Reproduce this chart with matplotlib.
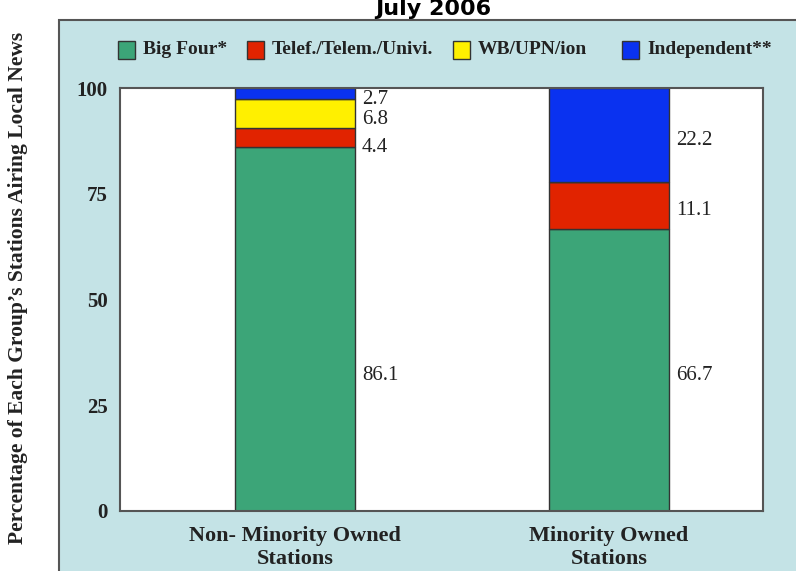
import numpy as np
import matplotlib.pyplot as plt
from matplotlib.patches import Rectangle

# Stacked shares of stations airing local news, by ownership group
groups = ["Non- Minority Owned\nStations", "Minority Owned\nStations"]
series = ["Big Four*", "Telef./Telem./Univi.", "WB/UPN/ion", "Independent**"]
big_four = [86.1, 66.7]
telef = [4.4, 11.1]
wb_upn = [6.8, 0.0]
independent = [2.7, 22.2]
yticks = [0, 25, 50, 75, 100]

colors = ["#3ca578", "#e12300", "#fff000", "#0a32f0"]
panel_color = "#c4e3e6"
edge = "#333333"
serif = ["Liberation Serif", "DejaVu Serif"]

fig = plt.figure(figsize=(7.96, 5.71), dpi=100)

# light blue panel behind everything (only its top and left borders show)
panel = Rectangle((59 / 796, -0.05), 1.0, 1 - 20 / 571 + 0.05, transform=fig.transFigure,
                  facecolor=panel_color, edgecolor="#555555", linewidth=1.5, zorder=-1)
fig.patches.append(panel)

fig.text(433 / 796, 1 - 15 / 571, "July 2006", ha="center", va="baseline",
         fontsize=16, fontweight="bold", family="DejaVu Sans")

ax = fig.add_axes([120 / 796, 1 - 511 / 571, 643 / 796, 423 / 571])
ax.set_facecolor("white")

x = np.arange(len(groups))
width = 0.382
values = [big_four, telef, wb_upn, independent]
bottom = np.zeros(len(groups))
for i, (vals, col) in enumerate(zip(values, colors)):
    vals = np.array(vals)
    ax.bar(x, vals, width, bottom=bottom, color=col, edgecolor=edge, linewidth=1, zorder=2)
    for j, v in enumerate(vals):
        if v <= 0:
            continue
        if i == 0:
            # both Big Four labels sit at a shared height
            ly = min(big_four) / 2
        elif i == 1 and vals[j] < 6:
            # thin red slice: nudge its label below the yellow one
            ly = bottom[j] + v / 2 - 1
        else:
            ly = bottom[j] + v / 2
        ax.annotate(f"{v:.1f}", (x[j] + width / 2, ly), xytext=(5, -4),
                    textcoords="offset points", ha="left", va="center",
                    fontsize=15, family=serif, color="#222222")
    bottom += vals

ax.set_xlim(-0.557, 1.49)
ax.set_ylim(0, 100)
ax.set_yticks(yticks)
ax.set_yticklabels([str(t) for t in yticks], family=serif, fontweight="bold",
                   fontsize=15, color="#222222")
ax.set_xticks(x)
ax.set_xticklabels(groups, family=serif, fontweight="bold", fontsize=16,
                   color="#222222", linespacing=1.2)
ax.tick_params(axis="both", length=0)
ax.tick_params(axis="y", pad=9)
ax.tick_params(axis="x", pad=11)
for s in ax.spines.values():
    s.set_color("#555555")
    s.set_linewidth(1.5)

fig.text(18 / 796, 1 - 288 / 571, "Percentage of Each Group\u2019s Stations Airing Local News",
         rotation=90, ha="center", va="center", fontsize=15.5, fontweight="bold",
         family=serif, color="#222222")

# legend row across the top of the panel
swatch_x = [118, 247, 453, 622]
for name, col, sx in zip(series, colors, swatch_x):
    fig.patches.append(Rectangle((sx / 796, 1 - 59 / 571), 17 / 796, 18 / 571,
                                 transform=fig.transFigure, facecolor=col,
                                 edgecolor=edge, linewidth=1, zorder=3))
    fig.text((sx + 25) / 796, 1 - 50 / 571, name, ha="left", va="center",
             fontsize=14, fontweight="bold", family=serif, color="#222222")

fig.savefig("out.png", dpi=100)
